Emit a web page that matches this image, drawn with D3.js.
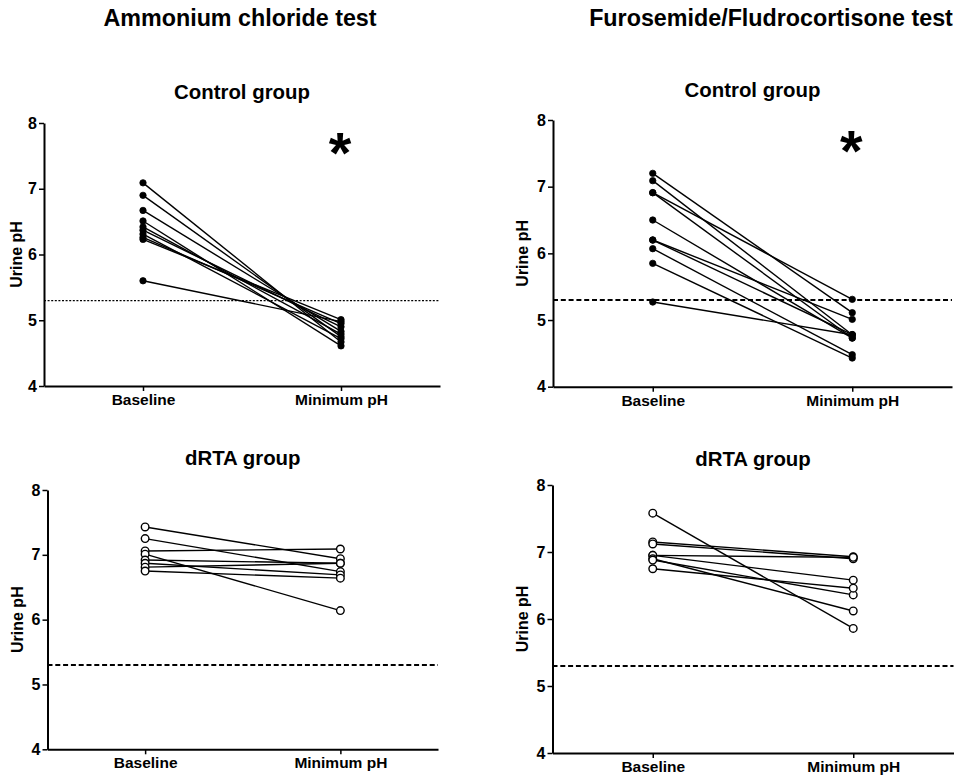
<!DOCTYPE html>
<html>
<head>
<meta charset="utf-8">
<script src="https://cdn.jsdelivr.net/npm/d3@7"></script>
<style>
  html, body { margin: 0; padding: 0; background: #fff; }
  svg { display: block; font-family: "Liberation Sans", Arial, sans-serif; }
  .tick text { font-weight: bold; fill: #000; }
</style>
</head>
<body>
<svg id="chart" width="960" height="780"></svg>
<script>
// Paired urine pH readings: baseline vs minimum pH reached during each test
const timepoints = ["Baseline", "Minimum pH"];
const yTicks = [4, 5, 6, 7, 8];
const acidThreshold = 5.3;
const testTitles = ["Ammonium chloride test", "Furosemide/Fludrocortisone test"];
const groupTitles = ["Control group", "dRTA group"];

// Ammonium chloride test
const nh4clControlBaseline = [7.09, 6.90, 6.67, 6.51, 6.42, 6.37, 6.31, 6.26, 6.23, 5.60];
const nh4clControlMinimum  = [4.67, 4.75, 4.83, 4.61, 4.79, 4.90, 4.72, 4.95, 5.01, 4.98];
const nh4clDrtaBaseline    = [7.43, 7.25, 7.06, 7.01, 6.92, 6.87, 6.81, 6.75];
const nh4clDrtaMinimum     = [6.94, 6.74, 7.09, 6.14, 6.87, 6.69, 6.87, 6.64];

// Furosemide/Fludrocortisone test
const fuflControlBaseline  = [7.20, 7.09, 6.91, 6.91, 6.50, 6.20, 6.20, 6.07, 5.85, 5.27];
const fuflControlMinimum   = [5.11, 4.78, 5.31, 4.73, 4.73, 5.01, 4.78, 4.48, 4.43, 4.78];
const fuflDrtaBaseline     = [7.58, 7.15, 7.12, 6.95, 6.95, 6.90, 6.88, 6.75];
const fuflDrtaMinimum      = [5.86, 6.93, 6.90, 6.92, 6.58, 6.12, 6.36, 6.46];

// Significance marker shown on the control panels
const significance = "*";

// Panel frames (pixel layout)
const panels = [
  { base: nh4clControlBaseline, min: nh4clControlMinimum, filled: true, group: 0,
    x0: 44, x1: 440, yTop: 123, yBot: 386, titleY: 99, labelX: 17,
    dash: "2,1.6", dashW: 1.3, star: true },
  { base: fuflControlBaseline, min: fuflControlMinimum, filled: true, group: 0,
    x0: 553, x1: 952, yTop: 120, yBot: 386.7, titleY: 97, labelX: 523,
    dash: "5,2.8", dashW: 2, star: true },
  { base: nh4clDrtaBaseline, min: nh4clDrtaMinimum, filled: false, group: 1,
    x0: 47.5, x1: 438, yTop: 490, yBot: 749.3, titleY: 465, labelX: 18,
    dash: "5,2.8", dashW: 2, star: false },
  { base: fuflDrtaBaseline, min: fuflDrtaMinimum, filled: false, group: 1,
    x0: 552.5, x1: 953.5, yTop: 485, yBot: 753, titleY: 466, labelX: 523,
    dash: "5,2.8", dashW: 2, star: false }
];

const svg = d3.select("#chart");

// Test headings above each column
svg.selectAll("text.test-title")
  .data([{ t: testTitles[0], x: 240 }, { t: testTitles[1], x: 771 }])
  .join("text")
  .attr("class", "test-title")
  .attr("x", d => d.x)
  .attr("y", 26)
  .attr("text-anchor", "middle")
  .attr("font-size", 23.3)
  .attr("font-weight", "bold")
  .text(d => d.t);

panels.forEach(p => {
  const g = svg.append("g");
  const x = d3.scalePoint().domain(timepoints).range([p.x0, p.x1]).padding(0.5);
  const y = d3.scaleLinear().domain([4, 8]).range([p.yBot, p.yTop]);

  // group title
  g.append("text")
    .attr("x", (x(timepoints[0]) + x(timepoints[1])) / 2)
    .attr("y", p.titleY)
    .attr("text-anchor", "middle")
    .attr("font-size", 20.4)
    .attr("font-weight", "bold")
    .text(groupTitles[p.group]);

  // acidification threshold
  g.append("line")
    .attr("x1", p.x0).attr("x2", p.x1)
    .attr("y1", y(acidThreshold)).attr("y2", y(acidThreshold))
    .attr("stroke", "#000")
    .attr("stroke-width", p.dashW)
    .attr("stroke-dasharray", p.dash);

  // axes
  const yAxis = g.append("g")
    .attr("transform", `translate(${p.x0},0)`)
    .call(d3.axisLeft(y).tickValues(yTicks).tickFormat(d3.format("d"))
      .tickSize(5).tickSizeOuter(0).tickPadding(2));
  yAxis.selectAll("text").attr("font-size", 16).attr("font-family", "Liberation Sans, Arial, sans-serif");

  const xAxis = g.append("g")
    .attr("transform", `translate(0,${p.yBot})`)
    .call(d3.axisBottom(x).tickSize(5).tickSizeOuter(0).tickPadding(3));
  xAxis.selectAll("text").attr("font-size", 15.5).attr("font-family", "Liberation Sans, Arial, sans-serif");

  [yAxis, xAxis].forEach(a => {
    a.select(".domain").attr("stroke-width", 2);
    a.selectAll(".tick line").attr("stroke-width", 1.5);
  });

  // y-axis title
  g.append("text")
    .attr("transform", `translate(${p.labelX + 5},${(p.yTop + p.yBot) / 2}) rotate(-90)`)
    .attr("text-anchor", "middle")
    .attr("font-size", 16)
    .attr("font-weight", "bold")
    .text("Urine pH");

  const pairs = p.base.map((b, i) => ({ b, m: p.min[i] }));

  // subject lines
  g.selectAll("line.pair")
    .data(pairs)
    .join("line")
    .attr("class", "pair")
    .attr("x1", x(timepoints[0])).attr("y1", d => y(d.b))
    .attr("x2", x(timepoints[1])).attr("y2", d => y(d.m))
    .attr("stroke", "#000")
    .attr("stroke-width", 1.4);

  // points
  const pts = pairs.flatMap(d => [
    { t: timepoints[0], v: d.b },
    { t: timepoints[1], v: d.m }
  ]);
  g.selectAll("circle")
    .data(pts)
    .join("circle")
    .attr("cx", d => x(d.t))
    .attr("cy", d => y(d.v))
    .attr("r", p.filled ? 3.2 : 3.8)
    .attr("fill", p.filled ? "#000" : "#fff")
    .attr("stroke", "#000")
    .attr("stroke-width", p.filled ? 0.8 : 1.4);

  if (p.star) {
    g.append("text")
      .attr("x", x(timepoints[1]) - 1)
      .attr("y", y(7.6) + 24)
      .attr("text-anchor", "middle")
      .attr("font-size", 58)
      .attr("font-weight", "bold")
      .text(significance);
  }
});
</script>
</body>
</html>
